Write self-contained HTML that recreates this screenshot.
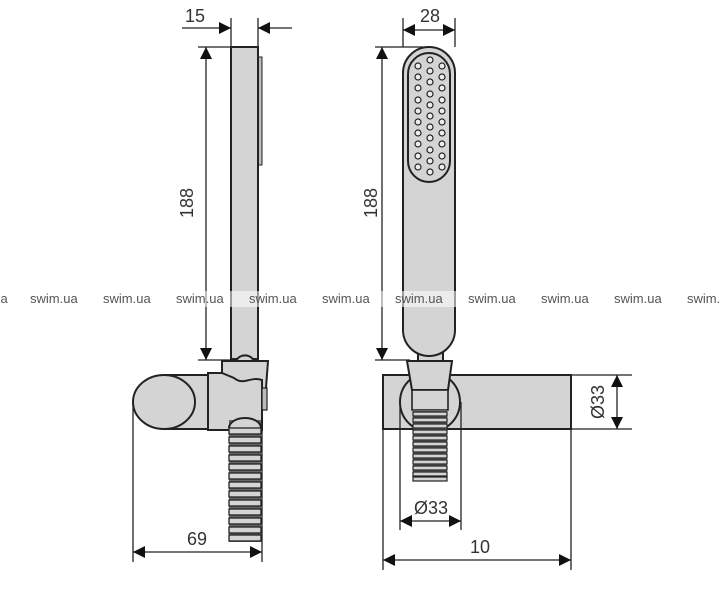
<!DOCTYPE html>
<html><head><meta charset="utf-8"><style>
html,body{margin:0;padding:0;background:#fff}
svg{display:block}
text{font-family:"Liberation Sans",sans-serif;fill:#333}
</style></head><body>
<svg width="720" height="600" viewBox="0 0 720 600" xmlns="http://www.w3.org/2000/svg">
<defs>
<marker id="b" viewBox="0 0 10 10" refX="10" refY="5" markerWidth="14" markerHeight="12" orient="auto-start-reverse" markerUnits="userSpaceOnUse"><path d="M0,0 L10,5 L0,10 z" fill="#111"/></marker>
</defs>
<g stroke="#222" stroke-width="1.3" fill="none">
<line x1="231" y1="18" x2="231" y2="47"/><line x1="258" y1="18" x2="258" y2="47"/>
<line x1="182" y1="28" x2="231" y2="28" marker-end="url(#b)"/>
<line x1="292" y1="28" x2="258" y2="28" marker-end="url(#b)"/>
<line x1="198" y1="47" x2="231" y2="47"/><line x1="198" y1="360" x2="240" y2="360"/>
<line x1="206" y1="47" x2="206" y2="360" marker-start="url(#b)" marker-end="url(#b)"/>
<rect x="258" y="57" width="4" height="108" fill="#bbb" stroke-width="1"/>
<rect x="231" y="47" width="27" height="312" fill="#d4d4d4" stroke-width="2"/>
<path d="M236,361 A10,10 0 0 1 254,361 Z" fill="#d4d4d4" stroke-width="2"/>
<path d="M164,375 L208,375 L208,429 L164,429 Z" fill="#d4d4d4" stroke-width="2"/>
<ellipse cx="164" cy="402" rx="31" ry="27" fill="#d4d4d4" stroke-width="2"/>
<path d="M208,373 L262,373 L262,430 L208,430 Z" fill="#d4d4d4" stroke-width="2"/>
<path d="M222,361 L268,361 L266,388 L262,392 L262,380 C250,376 244,386 234,378 L222,373 Z" fill="#d4d4d4" stroke-width="2"/>
<rect x="262" y="388" width="5" height="22" fill="#bbb" stroke-width="1.2"/>
<rect x="229" y="420" width="32" height="122" fill="#666" stroke="none"/>
<path d="M229,428 A16,10 0 0 1 261,428" fill="#d4d4d4" stroke-width="2"/>
<g fill="#d4d4d4" stroke-width="1.3">
<rect x="229" y="428" width="32" height="6"/><rect x="229" y="437" width="32" height="6"/><rect x="229" y="446" width="32" height="6"/><rect x="229" y="455" width="32" height="6"/><rect x="229" y="464" width="32" height="6"/><rect x="229" y="473" width="32" height="6"/><rect x="229" y="482" width="32" height="6"/><rect x="229" y="491" width="32" height="6"/><rect x="229" y="500" width="32" height="6"/><rect x="229" y="509" width="32" height="6"/><rect x="229" y="518" width="32" height="6"/><rect x="229" y="527" width="32" height="6"/><rect x="229" y="535" width="32" height="6"/>
</g>
<line x1="133" y1="402" x2="133" y2="562"/><line x1="262" y1="430" x2="262" y2="562"/>
<line x1="133" y1="552" x2="262" y2="552" marker-start="url(#b)" marker-end="url(#b)"/>
<line x1="403" y1="18" x2="403" y2="47"/><line x1="455" y1="18" x2="455" y2="47"/>
<line x1="403" y1="30" x2="455" y2="30" marker-start="url(#b)" marker-end="url(#b)"/>
<line x1="375" y1="47" x2="430" y2="47"/><line x1="375" y1="360" x2="410" y2="360"/>
<line x1="382" y1="47" x2="382" y2="360" marker-start="url(#b)" marker-end="url(#b)"/>
<rect x="418" y="345" width="25" height="18" fill="#d4d4d4" stroke-width="2"/>
<path d="M403,73 A26,26 0 0 1 455,73 L455,330 A26,26 0 0 1 403,330 Z" fill="#d4d4d4" stroke-width="2"/>
<path d="M408,74 A21,21 0 0 1 450,74 L450,161 A21,21 0 0 1 408,161 Z" fill="#d4d4d4" stroke-width="2"/>
<g fill="#eee" stroke-width="1.2">
<circle cx="418" cy="66" r="3"/><circle cx="418" cy="77" r="3"/><circle cx="418" cy="88" r="3"/><circle cx="418" cy="100" r="3"/><circle cx="418" cy="111" r="3"/><circle cx="418" cy="122" r="3"/><circle cx="418" cy="133" r="3"/><circle cx="418" cy="144" r="3"/><circle cx="418" cy="156" r="3"/><circle cx="418" cy="167" r="3"/>
<circle cx="442" cy="66" r="3"/><circle cx="442" cy="77" r="3"/><circle cx="442" cy="88" r="3"/><circle cx="442" cy="100" r="3"/><circle cx="442" cy="111" r="3"/><circle cx="442" cy="122" r="3"/><circle cx="442" cy="133" r="3"/><circle cx="442" cy="144" r="3"/><circle cx="442" cy="156" r="3"/><circle cx="442" cy="167" r="3"/>
<circle cx="430" cy="60" r="3"/><circle cx="430" cy="71" r="3"/><circle cx="430" cy="82" r="3"/><circle cx="430" cy="94" r="3"/><circle cx="430" cy="105" r="3"/><circle cx="430" cy="116" r="3"/><circle cx="430" cy="127" r="3"/><circle cx="430" cy="138" r="3"/><circle cx="430" cy="150" r="3"/><circle cx="430" cy="161" r="3"/><circle cx="430" cy="172" r="3"/>
</g>
<rect x="383" y="375" width="188" height="54" fill="#d4d4d4" stroke-width="2"/>
<circle cx="430" cy="402" r="30" fill="none" stroke-width="2"/>
<path d="M407,361 L452,361 L448,390 L412,390 Z" fill="#d4d4d4" stroke-width="2"/>
<rect x="412" y="390" width="36" height="20" fill="#d4d4d4" stroke-width="1.6"/>
<rect x="413" y="410" width="34" height="71" fill="#666" stroke="none"/>
<g fill="#d4d4d4" stroke-width="1.2">
<rect x="413" y="412" width="34" height="4"/><rect x="413" y="418" width="34" height="4"/><rect x="413" y="424" width="34" height="4"/><rect x="413" y="430" width="34" height="4"/><rect x="413" y="436" width="34" height="4"/><rect x="413" y="442" width="34" height="4"/><rect x="413" y="448" width="34" height="4"/><rect x="413" y="454" width="34" height="4"/><rect x="413" y="460" width="34" height="4"/><rect x="413" y="466" width="34" height="4"/><rect x="413" y="472" width="34" height="4"/><rect x="413" y="477" width="34" height="4"/>
</g>
<line x1="571" y1="375" x2="632" y2="375"/><line x1="571" y1="429" x2="632" y2="429"/>
<line x1="617" y1="375" x2="617" y2="429" marker-start="url(#b)" marker-end="url(#b)"/>
<line x1="400" y1="402" x2="400" y2="530"/><line x1="461" y1="402" x2="461" y2="530"/>
<line x1="400" y1="521" x2="461" y2="521" marker-start="url(#b)" marker-end="url(#b)"/>
<line x1="383" y1="429" x2="383" y2="570"/><line x1="571" y1="429" x2="571" y2="570"/>
<line x1="383" y1="560" x2="571" y2="560" marker-start="url(#b)" marker-end="url(#b)"/>
</g>
<g font-size="18" text-anchor="middle">
<text x="195" y="22">15</text>
<text x="430" y="22">28</text>
<text x="197" y="545">69</text>
<text x="480" y="553">10</text>
<text x="431" y="514">Ø33</text>
<text transform="translate(193,203) rotate(-90)">188</text>
<text transform="translate(377,203) rotate(-90)">188</text>
<text transform="translate(604,402) rotate(-90)">Ø33</text>
</g>
<rect x="0" y="291" width="720" height="16" fill="#fff" opacity="0.55"/>
<g font-size="13" style="fill:#555">
<text x="-40" y="303" style="fill:#555">swim.ua</text><text x="30" y="303" style="fill:#555">swim.ua</text><text x="103" y="303" style="fill:#555">swim.ua</text><text x="176" y="303" style="fill:#555">swim.ua</text><text x="249" y="303" style="fill:#555">swim.ua</text><text x="322" y="303" style="fill:#555">swim.ua</text><text x="395" y="303" style="fill:#555">swim.ua</text><text x="468" y="303" style="fill:#555">swim.ua</text><text x="541" y="303" style="fill:#555">swim.ua</text><text x="614" y="303" style="fill:#555">swim.ua</text><text x="687" y="303" style="fill:#555">swim.ua</text>
</g>
</svg>
</body></html>
